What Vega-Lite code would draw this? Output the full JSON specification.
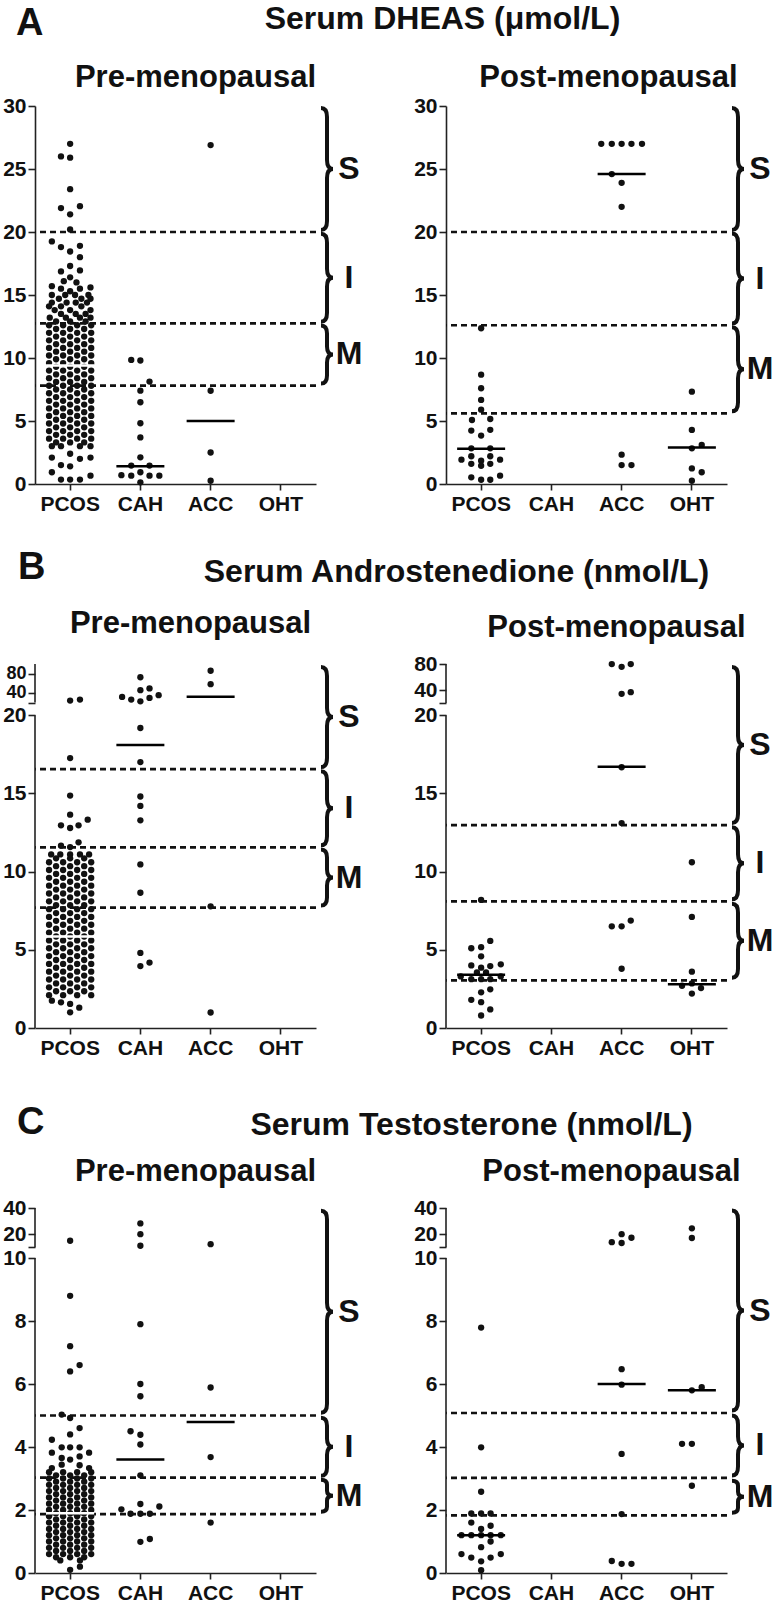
{
"$schema":"https://vega.github.io/schema/vega-lite/v6.json",
"background":"white",
"padding":{"left":2,"top":3,"right":3,"bottom":3},
"config":{
 "font":"Liberation Sans",
 "view":{"stroke":null},
 "axis":{"labelFont":"Liberation Sans","labelFontWeight":"bold","labelColor":"#111","labelOverlap":false,"domainColor":"#222","tickColor":"#222","domainWidth":1.6,"tickWidth":1.6,"grid":false,"titleFont":"Liberation Sans","titleFontWeight":"bold","titleColor":"#111"},
 "axisY":{"labelFontSize":21,"tickSize":7,"labelPadding":2},
 "axisX":{"labelFontSize":21,"tickSize":6,"labelPadding":3,"labelAngle":0},
 "title":{"font":"Liberation Sans","fontWeight":"bold","color":"#111"}
},
"datasets":{
"thr":[{"p":"A1","v":20},{"p":"A1","v":12.75},{"p":"A1","v":7.8},{"p":"A2","v":20},{"p":"A2","v":12.6},{"p":"A2","v":5.6},{"p":"B1","v":16.55},{"p":"B1","v":11.55},{"p":"B1","v":7.7},{"p":"B2","v":12.97},{"p":"B2","v":8.1},{"p":"B2","v":3.05},{"p":"C1","v":5.0},{"p":"C1","v":3.03},{"p":"C1","v":1.87},{"p":"C2","v":5.08},{"p":"C2","v":3.02},{"p":"C2","v":1.83}],
"med":[{"p":"A1","g":"PCOS","v":9.4},{"p":"A1","g":"CAH","v":1.4},{"p":"A1","g":"ACC","v":5.0},{"p":"A2","g":"PCOS","v":2.8},{"p":"A2","g":"ACC","v":24.6},{"p":"A2","g":"OHT","v":2.9},{"p":"B1","g":"PCOS","v":5.85},{"p":"B1","g":"CAH","v":18.1},{"p":"B1","g":"ACC","v":32},{"p":"B2","g":"PCOS","v":3.4},{"p":"B2","g":"ACC","v":16.7},{"p":"B2","g":"OHT","v":2.8},{"p":"C1","g":"PCOS","v":1.9},{"p":"C1","g":"CAH","v":3.6},{"p":"C1","g":"ACC","v":4.79},{"p":"C2","g":"PCOS","v":1.2},{"p":"C2","g":"ACC","v":6.0},{"p":"C2","g":"OHT","v":5.8}],
"br":[{"p":"A1","b":"S","m":25.0},{"p":"A1","b":"I","m":16.37},{"p":"A1","b":"M","m":10.28},{"p":"A2","b":"S","m":25.0},{"p":"A2","b":"I","m":16.3},{"p":"A2","b":"M","m":9.1},{"p":"B1","b":"S","m":19.88},{"p":"B1","b":"I","m":14.05},{"p":"B1","b":"M","m":9.62},{"p":"B2","b":"S","m":18.09},{"p":"B2","b":"I","m":10.54},{"p":"B2","b":"M","m":5.58},{"p":"C1","b":"S","m":8.29},{"p":"C1","b":"I","m":4.01},{"p":"C1","b":"M","m":2.45},{"p":"C2","b":"S","m":8.33},{"p":"C2","b":"I","m":4.05},{"p":"C2","b":"M","m":2.42}],
"seg":[{"p":"B1","y0":0,"y1":20},{"p":"B1","y0":20.0001,"y1":100},{"p":"B2","y0":0,"y1":20},{"p":"B2","y0":20.0001,"y1":80},{"p":"C1","y0":0,"y1":10},{"p":"C1","y0":10.0001,"y1":40},{"p":"C2","y0":0,"y1":10},{"p":"C2","y0":10.0001,"y1":40}],
"A1":[
{"g":"PCOS","v":27,"o":0},{"g":"PCOS","v":26,"o":-1.3},{"g":"PCOS","v":25.9,"o":0},{"g":"PCOS","v":23.4,"o":0},{"g":"PCOS","v":21.9,"o":-1.3},{"g":"PCOS","v":22.05,"o":1.4},{"g":"PCOS","v":21.4,"o":0},{"g":"PCOS","v":20.2,"o":0},{"g":"PCOS","v":19.25,"o":-2.6},{"g":"PCOS","v":18.8,"o":-1.3},{"g":"PCOS","v":18.9,"o":1.4},{"g":"PCOS","v":18.45,"o":0},{"g":"PCOS","v":18,"o":1.4},{"g":"PCOS","v":17.3,"o":0},{"g":"PCOS","v":16.87,"o":-1.3},{"g":"PCOS","v":16.95,"o":1.4},{"g":"PCOS","v":16.4,"o":0},{"g":"PCOS","v":16.1,"o":-0.9},{"g":"PCOS","v":16,"o":0.9},{"g":"PCOS","v":15.7,"o":-2.6},{"g":"PCOS","v":15.6,"o":2.9},{"g":"PCOS","v":15.5,"o":-1.3},{"g":"PCOS","v":15.5,"o":1.4},{"g":"PCOS","v":15.3,"o":0},
{"g":"PCOS","v":15,"o":-2.6},{"g":"PCOS","v":15,"o":-0.7},{"g":"PCOS","v":15,"o":0.7},{"g":"PCOS","v":15,"o":2.6},{"g":"PCOS","v":14.7,"o":-1.6},{"g":"PCOS","v":14.7,"o":1.6},{"g":"PCOS","v":14.7,"o":2.9},{"g":"PCOS","v":14.4,"o":-2.6},{"g":"PCOS","v":14.4,"o":-0.5},{"g":"PCOS","v":14.4,"o":0.8},{"g":"PCOS","v":14.4,"o":2.4},{"g":"PCOS","v":14.1,"o":-3},{"g":"PCOS","v":14.1,"o":-1.3},{"g":"PCOS","v":14.1,"o":1.6},{"g":"PCOS","v":13.8,"o":-2.2},{"g":"PCOS","v":13.8,"o":0},{"g":"PCOS","v":13.8,"o":2.9},{"g":"PCOS","v":13.5,"o":-1.3},{"g":"PCOS","v":13.5,"o":0.8},{"g":"PCOS","v":13.5,"o":2.2},{"g":"PCOS","v":13.2,"o":-2.9},{"g":"PCOS","v":13.2,"o":-0.6},{"g":"PCOS","v":13.2,"o":1.4},{"g":"PCOS","v":13.2,"o":2.9},{"g":"PCOS","v":12.9,"o":-2},{"g":"PCOS","v":12.9,"o":0},{"g":"PCOS","v":12.9,"o":2.2},
{"g":"PCOS","v":12.6,"o":-3},{"g":"PCOS","v":12.6,"o":-1},{"g":"PCOS","v":12.6,"o":1},{"g":"PCOS","v":12.6,"o":3},
{"g":"PCOS","v":12.3,"o":-2},{"g":"PCOS","v":12.3,"o":0},{"g":"PCOS","v":12.3,"o":2},
{"g":"PCOS","v":12.0,"o":-3},{"g":"PCOS","v":12.0,"o":-1},{"g":"PCOS","v":12.0,"o":1},{"g":"PCOS","v":12.0,"o":3},
{"g":"PCOS","v":11.7,"o":-2},{"g":"PCOS","v":11.7,"o":0},{"g":"PCOS","v":11.7,"o":2},
{"g":"PCOS","v":11.4,"o":-3},{"g":"PCOS","v":11.4,"o":-1},{"g":"PCOS","v":11.4,"o":1},{"g":"PCOS","v":11.4,"o":3},
{"g":"PCOS","v":11.1,"o":-2},{"g":"PCOS","v":11.1,"o":0},{"g":"PCOS","v":11.1,"o":2},
{"g":"PCOS","v":10.8,"o":-3},{"g":"PCOS","v":10.8,"o":-1},{"g":"PCOS","v":10.8,"o":1},{"g":"PCOS","v":10.8,"o":3},
{"g":"PCOS","v":10.5,"o":-2},{"g":"PCOS","v":10.5,"o":0},{"g":"PCOS","v":10.5,"o":2},
{"g":"PCOS","v":10.2,"o":-3},{"g":"PCOS","v":10.2,"o":-1},{"g":"PCOS","v":10.2,"o":1},{"g":"PCOS","v":10.2,"o":3},
{"g":"PCOS","v":9.9,"o":-2},{"g":"PCOS","v":9.9,"o":0},{"g":"PCOS","v":9.9,"o":2},
{"g":"PCOS","v":9.6,"o":-3},{"g":"PCOS","v":9.6,"o":-1},{"g":"PCOS","v":9.6,"o":1},{"g":"PCOS","v":9.6,"o":3},
{"g":"PCOS","v":9.3,"o":-2},{"g":"PCOS","v":9.3,"o":0},{"g":"PCOS","v":9.3,"o":2},
{"g":"PCOS","v":9.0,"o":-3},{"g":"PCOS","v":9.0,"o":-1},{"g":"PCOS","v":9.0,"o":1},{"g":"PCOS","v":9.0,"o":3},
{"g":"PCOS","v":8.7,"o":-2},{"g":"PCOS","v":8.7,"o":0},{"g":"PCOS","v":8.7,"o":2},
{"g":"PCOS","v":8.4,"o":-3},{"g":"PCOS","v":8.4,"o":-1},{"g":"PCOS","v":8.4,"o":1},{"g":"PCOS","v":8.4,"o":3},
{"g":"PCOS","v":8.1,"o":-2},{"g":"PCOS","v":8.1,"o":0},{"g":"PCOS","v":8.1,"o":2},
{"g":"PCOS","v":7.8,"o":-3},{"g":"PCOS","v":7.8,"o":-1},{"g":"PCOS","v":7.8,"o":1},{"g":"PCOS","v":7.8,"o":3},
{"g":"PCOS","v":7.5,"o":-2},{"g":"PCOS","v":7.5,"o":0},{"g":"PCOS","v":7.5,"o":2},
{"g":"PCOS","v":7.2,"o":-3},{"g":"PCOS","v":7.2,"o":-1},{"g":"PCOS","v":7.2,"o":1},{"g":"PCOS","v":7.2,"o":3},
{"g":"PCOS","v":6.9,"o":-2},{"g":"PCOS","v":6.9,"o":0},{"g":"PCOS","v":6.9,"o":2},
{"g":"PCOS","v":6.6,"o":-3},{"g":"PCOS","v":6.6,"o":-1},{"g":"PCOS","v":6.6,"o":1},{"g":"PCOS","v":6.6,"o":3},
{"g":"PCOS","v":6.3,"o":-2},{"g":"PCOS","v":6.3,"o":0},{"g":"PCOS","v":6.3,"o":2},
{"g":"PCOS","v":6.0,"o":-3},{"g":"PCOS","v":6.0,"o":-1},{"g":"PCOS","v":6.0,"o":1},{"g":"PCOS","v":6.0,"o":3},
{"g":"PCOS","v":5.7,"o":-2},{"g":"PCOS","v":5.7,"o":0},{"g":"PCOS","v":5.7,"o":2},
{"g":"PCOS","v":5.4,"o":-3},{"g":"PCOS","v":5.4,"o":-1},{"g":"PCOS","v":5.4,"o":1},{"g":"PCOS","v":5.4,"o":3},
{"g":"PCOS","v":5.1,"o":-2},{"g":"PCOS","v":5.1,"o":0},{"g":"PCOS","v":5.1,"o":2},
{"g":"PCOS","v":4.8,"o":-3},{"g":"PCOS","v":4.8,"o":-1},{"g":"PCOS","v":4.8,"o":1},{"g":"PCOS","v":4.8,"o":3},
{"g":"PCOS","v":4.5,"o":-2},{"g":"PCOS","v":4.5,"o":0},{"g":"PCOS","v":4.5,"o":2},
{"g":"PCOS","v":4.2,"o":-3},{"g":"PCOS","v":4.2,"o":-1},{"g":"PCOS","v":4.2,"o":1},{"g":"PCOS","v":4.2,"o":3},
{"g":"PCOS","v":3.9,"o":-2},{"g":"PCOS","v":3.9,"o":0},{"g":"PCOS","v":3.9,"o":2},
{"g":"PCOS","v":3.6,"o":-3},{"g":"PCOS","v":3.6,"o":-1},{"g":"PCOS","v":3.6,"o":1},{"g":"PCOS","v":3.6,"o":3},
{"g":"PCOS","v":3.3,"o":-2},{"g":"PCOS","v":3.3,"o":0},{"g":"PCOS","v":3.3,"o":2},
{"g":"PCOS","v":3,"o":-2.6},{"g":"PCOS","v":3,"o":-1.3},{"g":"PCOS","v":3,"o":1.4},{"g":"PCOS","v":3,"o":2.9},{"g":"PCOS","v":2.4,"o":0},{"g":"PCOS","v":2.1,"o":-2.6},{"g":"PCOS","v":2.1,"o":2.9},{"g":"PCOS","v":2,"o":1.4},{"g":"PCOS","v":1.5,"o":-1.3},{"g":"PCOS","v":1.4,"o":0},{"g":"PCOS","v":0.93,"o":-2.6},{"g":"PCOS","v":0.66,"o":2.9},{"g":"PCOS","v":0.35,"o":-1.3},{"g":"PCOS","v":0.35,"o":0},{"g":"PCOS","v":0.35,"o":1.4},
{"g":"CAH","v":9.85,"o":-1.3},{"g":"CAH","v":9.8,"o":0},{"g":"CAH","v":8.13,"o":1.3},{"g":"CAH","v":7.41,"o":0},{"g":"CAH","v":6.49,"o":0},{"g":"CAH","v":4.82,"o":0},{"g":"CAH","v":3.7,"o":0},{"g":"CAH","v":2.12,"o":0},{"g":"CAH","v":1.46,"o":-1.3},{"g":"CAH","v":1.46,"o":1.3},{"g":"CAH","v":0.7,"o":-2.7},{"g":"CAH","v":0.66,"o":-1.3},{"g":"CAH","v":0.93,"o":0},{"g":"CAH","v":0.66,"o":1.3},{"g":"CAH","v":0.66,"o":2.7},{"g":"CAH","v":0.13,"o":0},
{"g":"ACC","v":26.9,"o":0},{"g":"ACC","v":7.4,"o":0},{"g":"ACC","v":2.5,"o":0},{"g":"ACC","v":0.26,"o":0}
],
"A2":[
{"g":"PCOS","v":12.36,"o":0},{"g":"PCOS","v":8.68,"o":0},{"g":"PCOS","v":7.6,"o":0},{"g":"PCOS","v":6.67,"o":0},{"g":"PCOS","v":5.9,"o":0},{"g":"PCOS","v":5.08,"o":-1.3},{"g":"PCOS","v":5.16,"o":1.3},{"g":"PCOS","v":4.24,"o":-1.4},{"g":"PCOS","v":4.3,"o":1.3},{"g":"PCOS","v":3.84,"o":0},{"g":"PCOS","v":2.83,"o":-1.4},{"g":"PCOS","v":2.83,"o":1.3},{"g":"PCOS","v":2.2,"o":-1.4},{"g":"PCOS","v":2.2,"o":1.3},{"g":"PCOS","v":1.93,"o":-2.8},{"g":"PCOS","v":1.93,"o":2.7},{"g":"PCOS","v":1.85,"o":0},{"g":"PCOS","v":1.6,"o":-1.4},{"g":"PCOS","v":1.6,"o":1.3},{"g":"PCOS","v":1.45,"o":0},{"g":"PCOS","v":0.53,"o":-1.4},{"g":"PCOS","v":0.34,"o":0},{"g":"PCOS","v":0.34,"o":1.3},{"g":"PCOS","v":0.66,"o":2.7},
{"g":"ACC","v":27,"o":-2.9},{"g":"ACC","v":27,"o":-1.4},{"g":"ACC","v":27,"o":0},{"g":"ACC","v":27,"o":1.4},{"g":"ACC","v":27,"o":2.9},{"g":"ACC","v":24.6,"o":-1.4},{"g":"ACC","v":23.9,"o":0},{"g":"ACC","v":22,"o":0},{"g":"ACC","v":2.33,"o":0},{"g":"ACC","v":1.5,"o":0},{"g":"ACC","v":1.5,"o":1.4},
{"g":"OHT","v":7.33,"o":0},{"g":"OHT","v":4.29,"o":0},{"g":"OHT","v":2.83,"o":0},{"g":"OHT","v":3.1,"o":1.4},{"g":"OHT","v":1.24,"o":0},{"g":"OHT","v":0.93,"o":1.4},{"g":"OHT","v":0.26,"o":0}
],
"B1":[
{"g":"PCOS","v":24,"o":0},{"g":"PCOS","v":26,"o":1.4},{"g":"PCOS","v":17.26,"o":0},{"g":"PCOS","v":14.86,"o":0},{"g":"PCOS","v":13.64,"o":0},{"g":"PCOS","v":12.96,"o":-1.3},{"g":"PCOS","v":12.79,"o":0},{"g":"PCOS","v":12.96,"o":1.2},{"g":"PCOS","v":13.32,"o":2.5},{"g":"PCOS","v":11.66,"o":-1.3},{"g":"PCOS","v":11.57,"o":0},{"g":"PCOS","v":11.87,"o":1.2},
{"g":"PCOS","v":11.1,"o":-2.7},{"g":"PCOS","v":11.1,"o":-1.4},{"g":"PCOS","v":11.1,"o":0},{"g":"PCOS","v":11.1,"o":1.4},{"g":"PCOS","v":11.1,"o":2.7},
{"g":"PCOS","v":10.85,"o":-2},{"g":"PCOS","v":10.85,"o":0},{"g":"PCOS","v":10.85,"o":2},
{"g":"PCOS","v":10.6,"o":-3},{"g":"PCOS","v":10.6,"o":-1},{"g":"PCOS","v":10.6,"o":1},{"g":"PCOS","v":10.6,"o":3},
{"g":"PCOS","v":10.35,"o":-2},{"g":"PCOS","v":10.35,"o":0},{"g":"PCOS","v":10.35,"o":2},
{"g":"PCOS","v":10.1,"o":-3},{"g":"PCOS","v":10.1,"o":-1},{"g":"PCOS","v":10.1,"o":1},{"g":"PCOS","v":10.1,"o":3},
{"g":"PCOS","v":9.85,"o":-2},{"g":"PCOS","v":9.85,"o":0},{"g":"PCOS","v":9.85,"o":2},
{"g":"PCOS","v":9.6,"o":-3},{"g":"PCOS","v":9.6,"o":-1},{"g":"PCOS","v":9.6,"o":1},{"g":"PCOS","v":9.6,"o":3},
{"g":"PCOS","v":9.35,"o":-2},{"g":"PCOS","v":9.35,"o":0},{"g":"PCOS","v":9.35,"o":2},
{"g":"PCOS","v":9.1,"o":-3},{"g":"PCOS","v":9.1,"o":-1},{"g":"PCOS","v":9.1,"o":1},{"g":"PCOS","v":9.1,"o":3},
{"g":"PCOS","v":8.85,"o":-2},{"g":"PCOS","v":8.85,"o":0},{"g":"PCOS","v":8.85,"o":2},
{"g":"PCOS","v":8.6,"o":-3},{"g":"PCOS","v":8.6,"o":-1},{"g":"PCOS","v":8.6,"o":1},{"g":"PCOS","v":8.6,"o":3},
{"g":"PCOS","v":8.35,"o":-2},{"g":"PCOS","v":8.35,"o":0},{"g":"PCOS","v":8.35,"o":2},
{"g":"PCOS","v":8.1,"o":-3},{"g":"PCOS","v":8.1,"o":-1},{"g":"PCOS","v":8.1,"o":1},{"g":"PCOS","v":8.1,"o":3},
{"g":"PCOS","v":7.85,"o":-2},{"g":"PCOS","v":7.85,"o":0},{"g":"PCOS","v":7.85,"o":2},
{"g":"PCOS","v":7.6,"o":-3},{"g":"PCOS","v":7.6,"o":-1},{"g":"PCOS","v":7.6,"o":1},{"g":"PCOS","v":7.6,"o":3},
{"g":"PCOS","v":7.35,"o":-2},{"g":"PCOS","v":7.35,"o":0},{"g":"PCOS","v":7.35,"o":2},
{"g":"PCOS","v":7.1,"o":-3},{"g":"PCOS","v":7.1,"o":-1},{"g":"PCOS","v":7.1,"o":1},{"g":"PCOS","v":7.1,"o":3},
{"g":"PCOS","v":6.85,"o":-2},{"g":"PCOS","v":6.85,"o":0},{"g":"PCOS","v":6.85,"o":2},
{"g":"PCOS","v":6.6,"o":-3},{"g":"PCOS","v":6.6,"o":-1},{"g":"PCOS","v":6.6,"o":1},{"g":"PCOS","v":6.6,"o":3},
{"g":"PCOS","v":6.35,"o":-2},{"g":"PCOS","v":6.35,"o":0},{"g":"PCOS","v":6.35,"o":2},
{"g":"PCOS","v":6.1,"o":-3},{"g":"PCOS","v":6.1,"o":-1},{"g":"PCOS","v":6.1,"o":1},{"g":"PCOS","v":6.1,"o":3},
{"g":"PCOS","v":5.85,"o":-2},{"g":"PCOS","v":5.85,"o":0},{"g":"PCOS","v":5.85,"o":2},
{"g":"PCOS","v":5.6,"o":-3},{"g":"PCOS","v":5.6,"o":-1},{"g":"PCOS","v":5.6,"o":1},{"g":"PCOS","v":5.6,"o":3},
{"g":"PCOS","v":5.35,"o":-2},{"g":"PCOS","v":5.35,"o":0},{"g":"PCOS","v":5.35,"o":2},
{"g":"PCOS","v":5.1,"o":-3},{"g":"PCOS","v":5.1,"o":-1},{"g":"PCOS","v":5.1,"o":1},{"g":"PCOS","v":5.1,"o":3},
{"g":"PCOS","v":4.85,"o":-2},{"g":"PCOS","v":4.85,"o":0},{"g":"PCOS","v":4.85,"o":2},
{"g":"PCOS","v":4.6,"o":-3},{"g":"PCOS","v":4.6,"o":-1},{"g":"PCOS","v":4.6,"o":1},{"g":"PCOS","v":4.6,"o":3},
{"g":"PCOS","v":4.35,"o":-2},{"g":"PCOS","v":4.35,"o":0},{"g":"PCOS","v":4.35,"o":2},
{"g":"PCOS","v":4.1,"o":-3},{"g":"PCOS","v":4.1,"o":-1},{"g":"PCOS","v":4.1,"o":1},{"g":"PCOS","v":4.1,"o":3},
{"g":"PCOS","v":3.85,"o":-2},{"g":"PCOS","v":3.85,"o":0},{"g":"PCOS","v":3.85,"o":2},
{"g":"PCOS","v":3.6,"o":-3},{"g":"PCOS","v":3.6,"o":-1},{"g":"PCOS","v":3.6,"o":1},{"g":"PCOS","v":3.6,"o":3},
{"g":"PCOS","v":3.35,"o":-2},{"g":"PCOS","v":3.35,"o":0},{"g":"PCOS","v":3.35,"o":2},
{"g":"PCOS","v":3.1,"o":-3},{"g":"PCOS","v":3.1,"o":-1},{"g":"PCOS","v":3.1,"o":1},{"g":"PCOS","v":3.1,"o":3},
{"g":"PCOS","v":2.85,"o":-2},{"g":"PCOS","v":2.85,"o":0},{"g":"PCOS","v":2.85,"o":2},
{"g":"PCOS","v":2.6,"o":-3},{"g":"PCOS","v":2.6,"o":-1},{"g":"PCOS","v":2.6,"o":1},{"g":"PCOS","v":2.6,"o":3},
{"g":"PCOS","v":2.35,"o":-2},{"g":"PCOS","v":2.35,"o":0},{"g":"PCOS","v":2.35,"o":2},
{"g":"PCOS","v":2.1,"o":-3},{"g":"PCOS","v":2.1,"o":-1},{"g":"PCOS","v":2.1,"o":1},{"g":"PCOS","v":2.1,"o":3},
{"g":"PCOS","v":1.75,"o":-2.6},{"g":"PCOS","v":1.64,"o":-1.3},{"g":"PCOS","v":1.54,"o":0},{"g":"PCOS","v":1.3,"o":1.3},{"g":"PCOS","v":1.0,"o":0},
{"g":"CAH","v":72.4,"o":0},{"g":"CAH","v":45.7,"o":0},{"g":"CAH","v":49.3,"o":1.3},{"g":"CAH","v":31.6,"o":-2.6},{"g":"CAH","v":26.1,"o":-1.3},{"g":"CAH","v":22.5,"o":0},{"g":"CAH","v":29.5,"o":1.3},{"g":"CAH","v":35.2,"o":2.6},{"g":"CAH","v":19.18,"o":0},{"g":"CAH","v":17.0,"o":0},{"g":"CAH","v":14.8,"o":0},{"g":"CAH","v":14.2,"o":0},{"g":"CAH","v":13.28,"o":0},{"g":"CAH","v":10.46,"o":0},{"g":"CAH","v":8.65,"o":0},{"g":"CAH","v":4.8,"o":0},{"g":"CAH","v":3.96,"o":0},{"g":"CAH","v":4.18,"o":1.3},
{"g":"ACC","v":86,"o":0},{"g":"ACC","v":58,"o":0},{"g":"ACC","v":7.78,"o":0},{"g":"ACC","v":0.99,"o":0}
],
"B2":[
{"g":"PCOS","v":8.19,"o":0},{"g":"PCOS","v":5.57,"o":1.3},{"g":"PCOS","v":5.1,"o":-1.4},{"g":"PCOS","v":5.17,"o":0},{"g":"PCOS","v":4.58,"o":0},{"g":"PCOS","v":4.0,"o":-1.4},{"g":"PCOS","v":3.86,"o":0},{"g":"PCOS","v":3.96,"o":1.3},{"g":"PCOS","v":4.07,"o":2.8},{"g":"PCOS","v":3.55,"o":-0.6},{"g":"PCOS","v":3.55,"o":0.7},{"g":"PCOS","v":3.3,"o":-2.9},{"g":"PCOS","v":3.3,"o":2.8},{"g":"PCOS","v":3.12,"o":-1.4},{"g":"PCOS","v":3.12,"o":0},{"g":"PCOS","v":3.12,"o":1.3},{"g":"PCOS","v":2.47,"o":1.3},{"g":"PCOS","v":2.28,"o":0},{"g":"PCOS","v":1.8,"o":-1.4},{"g":"PCOS","v":1.65,"o":0},{"g":"PCOS","v":1.19,"o":1.3},{"g":"PCOS","v":0.8,"o":0},
{"g":"ACC","v":79.9,"o":-1.4},{"g":"ACC","v":75.6,"o":0},{"g":"ACC","v":79.9,"o":1.3},{"g":"ACC","v":34.1,"o":0},{"g":"ACC","v":36.7,"o":1.3},{"g":"ACC","v":16.67,"o":0},{"g":"ACC","v":13.1,"o":0},{"g":"ACC","v":6.5,"o":-1.4},{"g":"ACC","v":6.5,"o":0},{"g":"ACC","v":6.87,"o":1.3},{"g":"ACC","v":3.79,"o":0},
{"g":"OHT","v":10.6,"o":0},{"g":"OHT","v":7.1,"o":0},{"g":"OHT","v":3.6,"o":0},{"g":"OHT","v":2.7,"o":-1.4},{"g":"OHT","v":2.85,"o":0},{"g":"OHT","v":2.55,"o":1.3},{"g":"OHT","v":2.2,"o":0}
],
"C1":[
{"g":"PCOS","v":15.0,"o":0},{"g":"PCOS","v":8.8,"o":0},{"g":"PCOS","v":7.2,"o":0},{"g":"PCOS","v":6.6,"o":1.35},{"g":"PCOS","v":6.4,"o":0},{"g":"PCOS","v":5.03,"o":-1.2},{"g":"PCOS","v":4.92,"o":0},{"g":"PCOS","v":4.6,"o":1.35},{"g":"PCOS","v":4.4,"o":0},{"g":"PCOS","v":4.23,"o":-2.6},{"g":"PCOS","v":3.99,"o":-1.2},{"g":"PCOS","v":3.99,"o":0},{"g":"PCOS","v":3.99,"o":1.35},{"g":"PCOS","v":3.82,"o":-2.6},{"g":"PCOS","v":3.82,"o":2.7},{"g":"PCOS","v":3.7,"o":1.35},{"g":"PCOS","v":3.65,"o":-1.2},{"g":"PCOS","v":3.6,"o":0},{"g":"PCOS","v":3.44,"o":-1.2},{"g":"PCOS","v":3.42,"o":1.35},{"g":"PCOS","v":3.33,"o":-2.6},{"g":"PCOS","v":3.33,"o":2.7},
{"g":"PCOS","v":3.2,"o":-3},{"g":"PCOS","v":3.2,"o":-1},{"g":"PCOS","v":3.2,"o":1},{"g":"PCOS","v":3.2,"o":3},
{"g":"PCOS","v":3.1,"o":-2},{"g":"PCOS","v":3.1,"o":0},{"g":"PCOS","v":3.1,"o":2},
{"g":"PCOS","v":3.0,"o":-3},{"g":"PCOS","v":3.0,"o":-1},{"g":"PCOS","v":3.0,"o":1},{"g":"PCOS","v":3.0,"o":3},
{"g":"PCOS","v":2.9,"o":-2},{"g":"PCOS","v":2.9,"o":0},{"g":"PCOS","v":2.9,"o":2},
{"g":"PCOS","v":2.8,"o":-3},{"g":"PCOS","v":2.8,"o":-1},{"g":"PCOS","v":2.8,"o":1},{"g":"PCOS","v":2.8,"o":3},
{"g":"PCOS","v":2.7,"o":-2},{"g":"PCOS","v":2.7,"o":0},{"g":"PCOS","v":2.7,"o":2},
{"g":"PCOS","v":2.6,"o":-3},{"g":"PCOS","v":2.6,"o":-1},{"g":"PCOS","v":2.6,"o":1},{"g":"PCOS","v":2.6,"o":3},
{"g":"PCOS","v":2.5,"o":-2},{"g":"PCOS","v":2.5,"o":0},{"g":"PCOS","v":2.5,"o":2},
{"g":"PCOS","v":2.4,"o":-3},{"g":"PCOS","v":2.4,"o":-1},{"g":"PCOS","v":2.4,"o":1},{"g":"PCOS","v":2.4,"o":3},
{"g":"PCOS","v":2.3,"o":-2},{"g":"PCOS","v":2.3,"o":0},{"g":"PCOS","v":2.3,"o":2},
{"g":"PCOS","v":2.2,"o":-3},{"g":"PCOS","v":2.2,"o":-1},{"g":"PCOS","v":2.2,"o":1},{"g":"PCOS","v":2.2,"o":3},
{"g":"PCOS","v":2.1,"o":-2},{"g":"PCOS","v":2.1,"o":0},{"g":"PCOS","v":2.1,"o":2},
{"g":"PCOS","v":2.0,"o":-3},{"g":"PCOS","v":2.0,"o":-1},{"g":"PCOS","v":2.0,"o":1},{"g":"PCOS","v":2.0,"o":3},
{"g":"PCOS","v":1.9,"o":-2},{"g":"PCOS","v":1.9,"o":0},{"g":"PCOS","v":1.9,"o":2},
{"g":"PCOS","v":1.8,"o":-3},{"g":"PCOS","v":1.8,"o":-1},{"g":"PCOS","v":1.8,"o":1},{"g":"PCOS","v":1.8,"o":3},
{"g":"PCOS","v":1.7,"o":-2},{"g":"PCOS","v":1.7,"o":0},{"g":"PCOS","v":1.7,"o":2},
{"g":"PCOS","v":1.6,"o":-3},{"g":"PCOS","v":1.6,"o":-1},{"g":"PCOS","v":1.6,"o":1},{"g":"PCOS","v":1.6,"o":3},
{"g":"PCOS","v":1.5,"o":-2},{"g":"PCOS","v":1.5,"o":0},{"g":"PCOS","v":1.5,"o":2},
{"g":"PCOS","v":1.4,"o":-3},{"g":"PCOS","v":1.4,"o":-1},{"g":"PCOS","v":1.4,"o":1},{"g":"PCOS","v":1.4,"o":3},
{"g":"PCOS","v":1.3,"o":-2},{"g":"PCOS","v":1.3,"o":0},{"g":"PCOS","v":1.3,"o":2},
{"g":"PCOS","v":1.2,"o":-3},{"g":"PCOS","v":1.2,"o":-1},{"g":"PCOS","v":1.2,"o":1},{"g":"PCOS","v":1.2,"o":3},
{"g":"PCOS","v":1.1,"o":-2},{"g":"PCOS","v":1.1,"o":0},{"g":"PCOS","v":1.1,"o":2},
{"g":"PCOS","v":1.0,"o":-3},{"g":"PCOS","v":1.0,"o":-1},{"g":"PCOS","v":1.0,"o":1},{"g":"PCOS","v":1.0,"o":3},
{"g":"PCOS","v":0.9,"o":-2},{"g":"PCOS","v":0.9,"o":0},{"g":"PCOS","v":0.9,"o":2},
{"g":"PCOS","v":0.8,"o":-3},{"g":"PCOS","v":0.8,"o":-1},{"g":"PCOS","v":0.8,"o":1},{"g":"PCOS","v":0.8,"o":3},
{"g":"PCOS","v":0.7,"o":-2},{"g":"PCOS","v":0.7,"o":0},{"g":"PCOS","v":0.7,"o":2},
{"g":"PCOS","v":0.6,"o":-3},{"g":"PCOS","v":0.6,"o":-1},{"g":"PCOS","v":0.6,"o":1},{"g":"PCOS","v":0.6,"o":3},
{"g":"PCOS","v":0.5,"o":-2},{"g":"PCOS","v":0.5,"o":0},{"g":"PCOS","v":0.5,"o":2},
{"g":"PCOS","v":0.4,"o":-1.4},{"g":"PCOS","v":0.4,"o":1.4},{"g":"PCOS","v":0.2,"o":1.4},{"g":"PCOS","v":0.1,"o":0},
{"g":"CAH","v":28.2,"o":0},{"g":"CAH","v":20.0,"o":0},{"g":"CAH","v":11.2,"o":0},{"g":"CAH","v":7.9,"o":0},{"g":"CAH","v":6.0,"o":0},{"g":"CAH","v":5.61,"o":0},{"g":"CAH","v":4.5,"o":-1.4},{"g":"CAH","v":4.39,"o":0},{"g":"CAH","v":4.08,"o":0},{"g":"CAH","v":3.1,"o":0},{"g":"CAH","v":2.19,"o":0},{"g":"CAH","v":2.02,"o":-2.7},{"g":"CAH","v":1.88,"o":-1.4},{"g":"CAH","v":1.88,"o":0},{"g":"CAH","v":1.88,"o":1.35},{"g":"CAH","v":2.11,"o":2.7},{"g":"CAH","v":0.99,"o":0},{"g":"CAH","v":1.08,"o":1.35},
{"g":"ACC","v":12.4,"o":0},{"g":"ACC","v":5.89,"o":0},{"g":"ACC","v":3.68,"o":0},{"g":"ACC","v":1.6,"o":0}
],
"C2":[
{"g":"PCOS","v":7.79,"o":0},{"g":"PCOS","v":3.99,"o":0},{"g":"PCOS","v":2.58,"o":0},{"g":"PCOS","v":1.89,"o":-1.4},{"g":"PCOS","v":1.89,"o":0},{"g":"PCOS","v":1.89,"o":1.35},{"g":"PCOS","v":1.6,"o":-1.4},{"g":"PCOS","v":1.5,"o":1.35},{"g":"PCOS","v":1.4,"o":0},{"g":"PCOS","v":1.2,"o":-2.8},{"g":"PCOS","v":1.2,"o":-1.4},{"g":"PCOS","v":1.2,"o":0},{"g":"PCOS","v":1.2,"o":1.35},{"g":"PCOS","v":1.2,"o":2.8},{"g":"PCOS","v":0.82,"o":0},{"g":"PCOS","v":1.0,"o":1.35},{"g":"PCOS","v":0.6,"o":-2.8},{"g":"PCOS","v":0.49,"o":-1.4},{"g":"PCOS","v":0.49,"o":1.35},{"g":"PCOS","v":0.6,"o":2.8},{"g":"PCOS","v":0.37,"o":0},{"g":"PCOS","v":0.09,"o":0},
{"g":"ACC","v":13.9,"o":-1.4},{"g":"ACC","v":20.0,"o":0},{"g":"ACC","v":13.3,"o":0},{"g":"ACC","v":17.3,"o":1.4},{"g":"ACC","v":6.47,"o":0},{"g":"ACC","v":5.98,"o":0},{"g":"ACC","v":3.78,"o":0},{"g":"ACC","v":1.87,"o":0},{"g":"ACC","v":0.38,"o":-1.4},{"g":"ACC","v":0.29,"o":0},{"g":"ACC","v":0.29,"o":1.4},
{"g":"OHT","v":24.5,"o":0},{"g":"OHT","v":17.1,"o":0},{"g":"OHT","v":5.8,"o":0},{"g":"OHT","v":5.9,"o":1.4},{"g":"OHT","v":4.1,"o":-1.4},{"g":"OHT","v":4.1,"o":0},{"g":"OHT","v":2.77,"o":0}
]
},
"columns":2,
"spacing":{"row":180,"column":130},
"bounds":"flush",
"resolve":{"scale":{"xOffset":"independent"}},
"concat":[
 {"width":281,"height":378,
  "title":{"text":"A","anchor":"start","frame":"group","dx":-19,"fontSize":38,"offset":-12,"baseline":"alphabetic"},
  "resolve":{"scale":{"x":"independent"},"axis":{"x":"independent"}},
  "layer":[
   {"data":{"name":"thr"},"transform":[{"filter":"datum.p === 'A1'"}],"mark":{"type":"rule","strokeDash":[6,4],"strokeWidth":2.7,"color":"#111"},
    "encoding":{"y":{"field":"v","type":"quantitative","scale":{"domain":[0,30],"nice":false,"zero":false},"axis":{"title":null,"values":[0,5,10,15,20,25,30]}}}},
   {"data":{"name":"A1"},"mark":{"type":"circle","size":40,"color":"#111","opacity":1},
    "encoding":{"x":{"field":"g","type":"nominal","scale":{"type":"band","domain":["PCOS","CAH","ACC","OHT"],"paddingInner":0,"paddingOuter":0},"axis":{"title":null}},
     "xOffset":{"field":"o","type":"quantitative","scale":{"domain":[-5,5]}},
     "y":{"field":"v","type":"quantitative"}}},
   {"data":{"name":"med"},"transform":[{"filter":"datum.p === 'A1'"}],"mark":{"type":"tick","thickness":2.5,"size":48,"opacity":1},
    "encoding":{"x":{"field":"g","type":"nominal","scale":{"type":"band","domain":["PCOS","CAH","ACC","OHT"],"paddingInner":0,"paddingOuter":0},"axis":{"orient":"top","title":"Pre-menopausal","labels":false,"ticks":false,"domain":false,"titleFontSize":31,"titlePadding":20,"titleX":160,"titleBaseline":"alphabetic"}},
     "y":{"field":"v","type":"quantitative"},
     "color":{"condition":{"test":"datum.g === 'PCOS'","value":"white"},"value":"#000"}}},
   {"data":{"name":"br"},"transform":[{"filter":"datum.p === 'A1' && datum.b === 'S'"}],"mark":{"type":"point","shape":"M5,-61Q11,-61 11,-52L11,-9Q11,0 17,0Q11,0 11,9L11,52Q11,61 5,61","size":4,"filled":false,"color":"#111","strokeWidth":4,"opacity":1},
    "encoding":{"x":{"datum":1,"type":"quantitative","scale":{"domain":[0,1]},"axis":null},"y":{"field":"m","type":"quantitative"}}},
   {"data":{"name":"br"},"transform":[{"filter":"datum.p === 'A1' && datum.b === 'I'"}],"mark":{"type":"point","shape":"M5,-44Q11,-44 11,-35L11,-9Q11,0 17,0Q11,0 11,9L11,35Q11,44 5,44","size":4,"filled":false,"color":"#111","strokeWidth":4,"opacity":1},
    "encoding":{"x":{"datum":1,"type":"quantitative","scale":{"domain":[0,1]},"axis":null},"y":{"field":"m","type":"quantitative"}}},
   {"data":{"name":"br"},"transform":[{"filter":"datum.p === 'A1' && datum.b === 'M'"}],"mark":{"type":"point","shape":"M5,-29Q11,-29 11,-21L11,-8Q11,0 17,0Q11,0 11,8L11,21Q11,29 5,29","size":4,"filled":false,"color":"#111","strokeWidth":4,"opacity":1},
    "encoding":{"x":{"datum":1,"type":"quantitative","scale":{"domain":[0,1]},"axis":null},"y":{"field":"m","type":"quantitative"}}},
   {"data":{"name":"br"},"transform":[{"filter":"datum.p === 'A1'"}],"mark":{"type":"text","dx":33,"fontSize":32,"fontWeight":"bold","align":"center","baseline":"middle","color":"#111"},
    "encoding":{"x":{"datum":1,"type":"quantitative","scale":{"domain":[0,1]},"axis":null},"y":{"field":"m","type":"quantitative"},"text":{"field":"b"}}}
  ]},
 {"width":281,"height":378,
  "title":{"text":"Serum DHEAS (μmol/L)","anchor":"middle","frame":"group","dx":-144,"fontSize":32,"offset":0,"baseline":"alphabetic"},
  "resolve":{"scale":{"x":"independent"},"axis":{"x":"independent"}},
  "layer":[
   {"data":{"name":"thr"},"transform":[{"filter":"datum.p === 'A2'"}],"mark":{"type":"rule","strokeDash":[6,4],"strokeWidth":2.7,"color":"#111"},
    "encoding":{"y":{"field":"v","type":"quantitative","scale":{"domain":[0,30],"nice":false,"zero":false},"axis":{"title":null,"values":[0,5,10,15,20,25,30]}}}},
   {"data":{"name":"A2"},"mark":{"type":"circle","size":40,"color":"#111","opacity":1},
    "encoding":{"x":{"field":"g","type":"nominal","scale":{"type":"band","domain":["PCOS","CAH","ACC","OHT"],"paddingInner":0,"paddingOuter":0},"axis":{"title":null}},
     "xOffset":{"field":"o","type":"quantitative","scale":{"domain":[-5,5]}},
     "y":{"field":"v","type":"quantitative"}}},
   {"data":{"name":"med"},"transform":[{"filter":"datum.p === 'A2'"}],"mark":{"type":"tick","thickness":2.5,"size":48,"color":"#000","opacity":1},
    "encoding":{"x":{"field":"g","type":"nominal","scale":{"type":"band","domain":["PCOS","CAH","ACC","OHT"],"paddingInner":0,"paddingOuter":0},"axis":{"orient":"top","title":"Post-menopausal","labels":false,"ticks":false,"domain":false,"titleFontSize":31,"titlePadding":20,"titleX":162,"titleBaseline":"alphabetic"}},
     "y":{"field":"v","type":"quantitative"}}},
   {"data":{"name":"br"},"transform":[{"filter":"datum.p === 'A2' && datum.b === 'S'"}],"mark":{"type":"point","shape":"M5,-61Q11,-61 11,-52L11,-9Q11,0 17,0Q11,0 11,9L11,52Q11,61 5,61","size":4,"filled":false,"color":"#111","strokeWidth":4,"opacity":1},
    "encoding":{"x":{"datum":1,"type":"quantitative","scale":{"domain":[0,1]},"axis":null},"y":{"field":"m","type":"quantitative"}}},
   {"data":{"name":"br"},"transform":[{"filter":"datum.p === 'A2' && datum.b === 'I'"}],"mark":{"type":"point","shape":"M5,-45Q11,-45 11,-36L11,-9Q11,0 17,0Q11,0 11,9L11,36Q11,45 5,45","size":4,"filled":false,"color":"#111","strokeWidth":4,"opacity":1},
    "encoding":{"x":{"datum":1,"type":"quantitative","scale":{"domain":[0,1]},"axis":null},"y":{"field":"m","type":"quantitative"}}},
   {"data":{"name":"br"},"transform":[{"filter":"datum.p === 'A2' && datum.b === 'M'"}],"mark":{"type":"point","shape":"M5,-42Q11,-42 11,-33L11,-9Q11,0 17,0Q11,0 11,9L11,33Q11,42 5,42","size":4,"filled":false,"color":"#111","strokeWidth":4,"opacity":1},
    "encoding":{"x":{"datum":1,"type":"quantitative","scale":{"domain":[0,1]},"axis":null},"y":{"field":"m","type":"quantitative"}}},
   {"data":{"name":"br"},"transform":[{"filter":"datum.p === 'A2'"}],"mark":{"type":"text","dx":33,"fontSize":32,"fontWeight":"bold","align":"center","baseline":"middle","color":"#111"},
    "encoding":{"x":{"datum":1,"type":"quantitative","scale":{"domain":[0,1]},"axis":null},"y":{"field":"m","type":"quantitative"},"text":{"field":"b"}}}
  ]},
 {"width":281,"height":364,
  "title":{"text":"B","anchor":"start","frame":"group","dx":-17,"fontSize":38,"offset":-10,"baseline":"alphabetic"},
  "resolve":{"scale":{"x":"independent"},"axis":{"x":"independent"}},
  "layer":[
   {"data":{"name":"thr"},"transform":[{"filter":"datum.p === 'B1'"}],"mark":{"type":"rule","strokeDash":[6,4],"strokeWidth":2.7,"color":"#111"},
    "encoding":{"y":{"field":"v","type":"quantitative","scale":{"domain":[0,20,20.0001,100],"range":[364,51.2,38.5,0],"nice":false,"zero":false},"axis":{"title":null,"domain":false,"values":[0,5,10,15,20,20.0001,40,80],"labelExpr":"datum.value > 20 && datum.value < 21 ? '' : datum.label","labelFontSize":{"condition":{"test":"datum.value > 21","value":18},"value":21}}}}},
   {"data":{"name":"seg"},"transform":[{"filter":"datum.p === 'B1'"}],"mark":{"type":"rule","strokeWidth":1.6,"color":"#222"},
    "encoding":{"x":{"datum":0,"type":"quantitative","scale":{"domain":[0,1]},"axis":null},"y":{"field":"y0","type":"quantitative"},"y2":{"field":"y1"}}},
   {"data":{"name":"B1"},"mark":{"type":"circle","size":40,"color":"#111","opacity":1},
    "encoding":{"x":{"field":"g","type":"nominal","scale":{"type":"band","domain":["PCOS","CAH","ACC","OHT"],"paddingInner":0,"paddingOuter":0},"axis":{"title":null}},
     "xOffset":{"field":"o","type":"quantitative","scale":{"domain":[-5,5]}},
     "y":{"field":"v","type":"quantitative"}}},
   {"data":{"name":"med"},"transform":[{"filter":"datum.p === 'B1'"}],"mark":{"type":"tick","thickness":2.5,"size":48,"opacity":1},
    "encoding":{"x":{"field":"g","type":"nominal","scale":{"type":"band","domain":["PCOS","CAH","ACC","OHT"],"paddingInner":0,"paddingOuter":0},"axis":{"orient":"top","title":"Pre-menopausal","labels":false,"ticks":false,"domain":false,"titleFontSize":31,"titlePadding":32,"titleX":155,"titleBaseline":"alphabetic"}},
     "y":{"field":"v","type":"quantitative"},
     "color":{"condition":{"test":"datum.g === 'PCOS'","value":"white"},"value":"#000"}}},
   {"data":{"name":"br"},"transform":[{"filter":"datum.p === 'B1' && datum.b === 'S'"}],"mark":{"type":"point","shape":"M5,-50Q11,-50 11,-41L11,-9Q11,0 17,0Q11,0 11,9L11,41Q11,50 5,50","size":4,"filled":false,"color":"#111","strokeWidth":4,"opacity":1},
    "encoding":{"x":{"datum":1,"type":"quantitative","scale":{"domain":[0,1]},"axis":null},"y":{"field":"m","type":"quantitative"}}},
   {"data":{"name":"br"},"transform":[{"filter":"datum.p === 'B1' && datum.b === 'I'"}],"mark":{"type":"point","shape":"M5,-37Q11,-37 11,-28L11,-9Q11,0 17,0Q11,0 11,9L11,28Q11,37 5,37","size":4,"filled":false,"color":"#111","strokeWidth":4,"opacity":1},
    "encoding":{"x":{"datum":1,"type":"quantitative","scale":{"domain":[0,1]},"axis":null},"y":{"field":"m","type":"quantitative"}}},
   {"data":{"name":"br"},"transform":[{"filter":"datum.p === 'B1' && datum.b === 'M'"}],"mark":{"type":"point","shape":"M5,-28Q11,-28 11,-20L11,-8Q11,0 17,0Q11,0 11,8L11,20Q11,28 5,28","size":4,"filled":false,"color":"#111","strokeWidth":4,"opacity":1},
    "encoding":{"x":{"datum":1,"type":"quantitative","scale":{"domain":[0,1]},"axis":null},"y":{"field":"m","type":"quantitative"}}},
   {"data":{"name":"br"},"transform":[{"filter":"datum.p === 'B1'"}],"mark":{"type":"text","dx":33,"fontSize":32,"fontWeight":"bold","align":"center","baseline":"middle","color":"#111"},
    "encoding":{"x":{"datum":1,"type":"quantitative","scale":{"domain":[0,1]},"axis":null},"y":{"field":"m","type":"quantitative"},"text":{"field":"b"}}}
  ]},
 {"width":281,"height":364,
  "title":{"text":"Serum Androstenedione (nmol/L)","anchor":"middle","frame":"group","dx":-130,"fontSize":32,"offset":-2.5,"baseline":"alphabetic"},
  "resolve":{"scale":{"x":"independent"},"axis":{"x":"independent"}},
  "layer":[
   {"data":{"name":"thr"},"transform":[{"filter":"datum.p === 'B2'"}],"mark":{"type":"rule","strokeDash":[6,4],"strokeWidth":2.7,"color":"#111"},
    "encoding":{"y":{"field":"v","type":"quantitative","scale":{"domain":[0,20,20.0001,80],"range":[364,51.2,39,0],"nice":false,"zero":false},"axis":{"title":null,"domain":false,"values":[0,5,10,15,20,20.0001,40,80],"labelExpr":"datum.value > 20 && datum.value < 21 ? '' : datum.label"}}}},
   {"data":{"name":"seg"},"transform":[{"filter":"datum.p === 'B2'"}],"mark":{"type":"rule","strokeWidth":1.6,"color":"#222"},
    "encoding":{"x":{"datum":0,"type":"quantitative","scale":{"domain":[0,1]},"axis":null},"y":{"field":"y0","type":"quantitative"},"y2":{"field":"y1"}}},
   {"data":{"name":"B2"},"mark":{"type":"circle","size":40,"color":"#111","opacity":1},
    "encoding":{"x":{"field":"g","type":"nominal","scale":{"type":"band","domain":["PCOS","CAH","ACC","OHT"],"paddingInner":0,"paddingOuter":0},"axis":{"title":null}},
     "xOffset":{"field":"o","type":"quantitative","scale":{"domain":[-5,5]}},
     "y":{"field":"v","type":"quantitative"}}},
   {"data":{"name":"med"},"transform":[{"filter":"datum.p === 'B2'"}],"mark":{"type":"tick","thickness":2.5,"size":48,"color":"#000","opacity":1},
    "encoding":{"x":{"field":"g","type":"nominal","scale":{"type":"band","domain":["PCOS","CAH","ACC","OHT"],"paddingInner":0,"paddingOuter":0},"axis":{"orient":"top","title":"Post-menopausal","labels":false,"ticks":false,"domain":false,"titleFontSize":31,"titlePadding":28,"titleX":170,"titleBaseline":"alphabetic"}},
     "y":{"field":"v","type":"quantitative"}}},
   {"data":{"name":"br"},"transform":[{"filter":"datum.p === 'B2' && datum.b === 'S'"}],"mark":{"type":"point","shape":"M5,-78Q11,-78 11,-69L11,-9Q11,0 17,0Q11,0 11,9L11,69Q11,78 5,78","size":4,"filled":false,"color":"#111","strokeWidth":4,"opacity":1},
    "encoding":{"x":{"datum":1,"type":"quantitative","scale":{"domain":[0,1]},"axis":null},"y":{"field":"m","type":"quantitative"}}},
   {"data":{"name":"br"},"transform":[{"filter":"datum.p === 'B2' && datum.b === 'I'"}],"mark":{"type":"point","shape":"M5,-36Q11,-36 11,-27L11,-9Q11,0 17,0Q11,0 11,9L11,27Q11,36 5,36","size":4,"filled":false,"color":"#111","strokeWidth":4,"opacity":1},
    "encoding":{"x":{"datum":1,"type":"quantitative","scale":{"domain":[0,1]},"axis":null},"y":{"field":"m","type":"quantitative"}}},
   {"data":{"name":"br"},"transform":[{"filter":"datum.p === 'B2' && datum.b === 'M'"}],"mark":{"type":"point","shape":"M5,-37Q11,-37 11,-28L11,-9Q11,0 17,0Q11,0 11,9L11,28Q11,37 5,37","size":4,"filled":false,"color":"#111","strokeWidth":4,"opacity":1},
    "encoding":{"x":{"datum":1,"type":"quantitative","scale":{"domain":[0,1]},"axis":null},"y":{"field":"m","type":"quantitative"}}},
   {"data":{"name":"br"},"transform":[{"filter":"datum.p === 'B2'"}],"mark":{"type":"text","dx":33,"fontSize":32,"fontWeight":"bold","align":"center","baseline":"middle","color":"#111"},
    "encoding":{"x":{"datum":1,"type":"quantitative","scale":{"domain":[0,1]},"axis":null},"y":{"field":"m","type":"quantitative"},"text":{"field":"b"}}}
  ]},
 {"width":281,"height":365,
  "title":{"text":"C","anchor":"start","frame":"group","dx":-18,"fontSize":38,"offset":-16.5,"baseline":"alphabetic"},
  "resolve":{"scale":{"x":"independent"},"axis":{"x":"independent"}},
  "layer":[
   {"data":{"name":"thr"},"transform":[{"filter":"datum.p === 'C1'"}],"mark":{"type":"rule","strokeDash":[6,4],"strokeWidth":2.7,"color":"#111"},
    "encoding":{"y":{"field":"v","type":"quantitative","scale":{"domain":[0,10,10.0001,40],"range":[365,50,39.3,0],"nice":false,"zero":false},"axis":{"title":null,"domain":false,"values":[0,2,4,6,8,10,10.0001,20,40],"labelExpr":"datum.value > 10 && datum.value < 11 ? '' : datum.label"}}}},
   {"data":{"name":"seg"},"transform":[{"filter":"datum.p === 'C1'"}],"mark":{"type":"rule","strokeWidth":1.6,"color":"#222"},
    "encoding":{"x":{"datum":0,"type":"quantitative","scale":{"domain":[0,1]},"axis":null},"y":{"field":"y0","type":"quantitative"},"y2":{"field":"y1"}}},
   {"data":{"name":"C1"},"mark":{"type":"circle","size":40,"color":"#111","opacity":1},
    "encoding":{"x":{"field":"g","type":"nominal","scale":{"type":"band","domain":["PCOS","CAH","ACC","OHT"],"paddingInner":0,"paddingOuter":0},"axis":{"title":null}},
     "xOffset":{"field":"o","type":"quantitative","scale":{"domain":[-5,5]}},
     "y":{"field":"v","type":"quantitative"}}},
   {"data":{"name":"med"},"transform":[{"filter":"datum.p === 'C1'"}],"mark":{"type":"tick","thickness":2.5,"size":48,"opacity":1},
    "encoding":{"x":{"field":"g","type":"nominal","scale":{"type":"band","domain":["PCOS","CAH","ACC","OHT"],"paddingInner":0,"paddingOuter":0},"axis":{"orient":"top","title":"Pre-menopausal","labels":false,"ticks":false,"domain":false,"titleFontSize":31,"titlePadding":28,"titleX":160,"titleBaseline":"alphabetic"}},
     "y":{"field":"v","type":"quantitative"},
     "color":{"condition":{"test":"datum.g === 'PCOS'","value":"white"},"value":"#000"}}},
   {"data":{"name":"br"},"transform":[{"filter":"datum.p === 'C1' && datum.b === 'S'"}],"mark":{"type":"point","shape":"M5,-101Q11,-101 11,-92L11,-9Q11,0 17,0Q11,0 11,9L11,92Q11,101 5,101","size":4,"filled":false,"color":"#111","strokeWidth":4,"opacity":1},
    "encoding":{"x":{"datum":1,"type":"quantitative","scale":{"domain":[0,1]},"axis":null},"y":{"field":"m","type":"quantitative"}}},
   {"data":{"name":"br"},"transform":[{"filter":"datum.p === 'C1' && datum.b === 'I'"}],"mark":{"type":"point","shape":"M5,-29Q11,-29 11,-21L11,-8Q11,0 17,0Q11,0 11,8L11,21Q11,29 5,29","size":4,"filled":false,"color":"#111","strokeWidth":4,"opacity":1},
    "encoding":{"x":{"datum":1,"type":"quantitative","scale":{"domain":[0,1]},"axis":null},"y":{"field":"m","type":"quantitative"}}},
   {"data":{"name":"br"},"transform":[{"filter":"datum.p === 'C1' && datum.b === 'M'"}],"mark":{"type":"point","shape":"M5,-16Q11,-16 11,-11L11,-5Q11,0 17,0Q11,0 11,5L11,11Q11,16 5,16","size":4,"filled":false,"color":"#111","strokeWidth":4,"opacity":1},
    "encoding":{"x":{"datum":1,"type":"quantitative","scale":{"domain":[0,1]},"axis":null},"y":{"field":"m","type":"quantitative"}}},
   {"data":{"name":"br"},"transform":[{"filter":"datum.p === 'C1'"}],"mark":{"type":"text","dx":33,"fontSize":32,"fontWeight":"bold","align":"center","baseline":"middle","color":"#111"},
    "encoding":{"x":{"datum":1,"type":"quantitative","scale":{"domain":[0,1]},"axis":null},"y":{"field":"m","type":"quantitative"},"text":{"field":"b"}}}
  ]},
 {"width":281,"height":365,
  "title":{"text":"Serum Testosterone (nmol/L)","anchor":"middle","frame":"group","dx":-115,"fontSize":32,"offset":-12,"baseline":"alphabetic"},
  "resolve":{"scale":{"x":"independent"},"axis":{"x":"independent"}},
  "layer":[
   {"data":{"name":"thr"},"transform":[{"filter":"datum.p === 'C2'"}],"mark":{"type":"rule","strokeDash":[6,4],"strokeWidth":2.7,"color":"#111"},
    "encoding":{"y":{"field":"v","type":"quantitative","scale":{"domain":[0,10,10.0001,40],"range":[365,50,39.3,0],"nice":false,"zero":false},"axis":{"title":null,"domain":false,"values":[0,2,4,6,8,10,10.0001,20,40],"labelExpr":"datum.value > 10 && datum.value < 11 ? '' : datum.label"}}}},
   {"data":{"name":"seg"},"transform":[{"filter":"datum.p === 'C2'"}],"mark":{"type":"rule","strokeWidth":1.6,"color":"#222"},
    "encoding":{"x":{"datum":0,"type":"quantitative","scale":{"domain":[0,1]},"axis":null},"y":{"field":"y0","type":"quantitative"},"y2":{"field":"y1"}}},
   {"data":{"name":"C2"},"mark":{"type":"circle","size":40,"color":"#111","opacity":1},
    "encoding":{"x":{"field":"g","type":"nominal","scale":{"type":"band","domain":["PCOS","CAH","ACC","OHT"],"paddingInner":0,"paddingOuter":0},"axis":{"title":null}},
     "xOffset":{"field":"o","type":"quantitative","scale":{"domain":[-5,5]}},
     "y":{"field":"v","type":"quantitative"}}},
   {"data":{"name":"med"},"transform":[{"filter":"datum.p === 'C2'"}],"mark":{"type":"tick","thickness":2.5,"size":48,"color":"#000","opacity":1},
    "encoding":{"x":{"field":"g","type":"nominal","scale":{"type":"band","domain":["PCOS","CAH","ACC","OHT"],"paddingInner":0,"paddingOuter":0},"axis":{"orient":"top","title":"Post-menopausal","labels":false,"ticks":false,"domain":false,"titleFontSize":31,"titlePadding":28,"titleX":165,"titleBaseline":"alphabetic"}},
     "y":{"field":"v","type":"quantitative"}}},
   {"data":{"name":"br"},"transform":[{"filter":"datum.p === 'C2' && datum.b === 'S'"}],"mark":{"type":"point","shape":"M5,-100Q11,-100 11,-91L11,-9Q11,0 17,0Q11,0 11,9L11,91Q11,100 5,100","size":4,"filled":false,"color":"#111","strokeWidth":4,"opacity":1},
    "encoding":{"x":{"datum":1,"type":"quantitative","scale":{"domain":[0,1]},"axis":null},"y":{"field":"m","type":"quantitative"}}},
   {"data":{"name":"br"},"transform":[{"filter":"datum.p === 'C2' && datum.b === 'I'"}],"mark":{"type":"point","shape":"M5,-30Q11,-30 11,-21L11,-9Q11,0 17,0Q11,0 11,9L11,21Q11,30 5,30","size":4,"filled":false,"color":"#111","strokeWidth":4,"opacity":1},
    "encoding":{"x":{"datum":1,"type":"quantitative","scale":{"domain":[0,1]},"axis":null},"y":{"field":"m","type":"quantitative"}}},
   {"data":{"name":"br"},"transform":[{"filter":"datum.p === 'C2' && datum.b === 'M'"}],"mark":{"type":"point","shape":"M5,-16Q11,-16 11,-11L11,-5Q11,0 17,0Q11,0 11,5L11,11Q11,16 5,16","size":4,"filled":false,"color":"#111","strokeWidth":4,"opacity":1},
    "encoding":{"x":{"datum":1,"type":"quantitative","scale":{"domain":[0,1]},"axis":null},"y":{"field":"m","type":"quantitative"}}},
   {"data":{"name":"br"},"transform":[{"filter":"datum.p === 'C2'"}],"mark":{"type":"text","dx":33,"fontSize":32,"fontWeight":"bold","align":"center","baseline":"middle","color":"#111"},
    "encoding":{"x":{"datum":1,"type":"quantitative","scale":{"domain":[0,1]},"axis":null},"y":{"field":"m","type":"quantitative"},"text":{"field":"b"}}}
  ]}
]
}
